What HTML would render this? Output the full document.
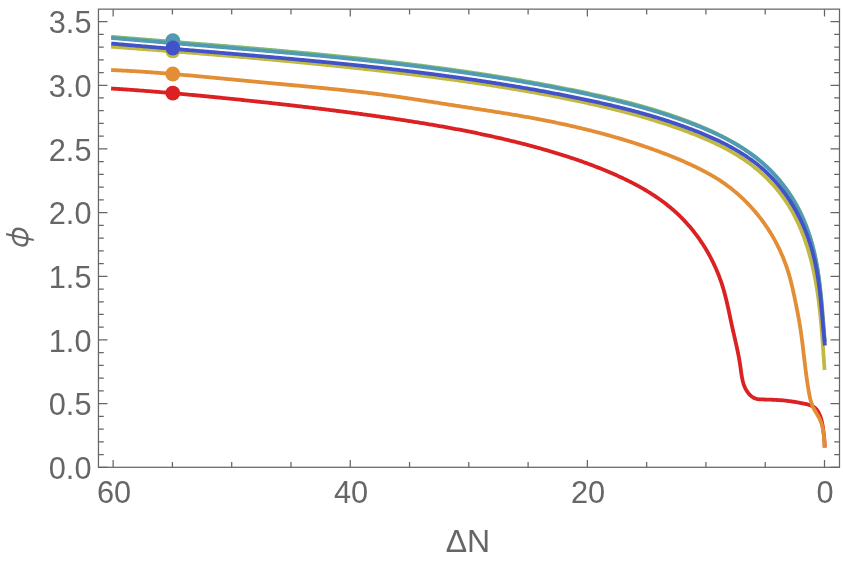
<!DOCTYPE html><html><head><meta charset="utf-8"><title>plot</title><style>
html,body{margin:0;padding:0;background:#fff}
#c{position:relative;width:843px;height:562px;overflow:hidden;background:#fff;font-family:"Liberation Sans",sans-serif;color:#666;font-size:32px;line-height:1}
.yl{position:absolute;right:751.4px;text-align:right;white-space:nowrap;height:32px;line-height:32px;transform-origin:100% 50%;transform:scaleX(0.96)}
.xl{position:absolute;top:475.7px;white-space:nowrap;transform:translateX(-50%) scaleX(0.96);height:32px;line-height:32px}
.d{margin:0}
</style></head><body><div id="c">
<svg width="843" height="562" viewBox="0 0 843 562" style="position:absolute;left:0;top:0">
<rect x="0" y="0" width="843" height="562" fill="#fff"/>
<path d="M111.10,88.49 L112.38,88.57 L113.66,88.65 L114.93,88.73 L116.21,88.81 L117.49,88.90 L118.76,88.98 L120.04,89.07 L121.32,89.15 L122.59,89.24 L123.87,89.33 L125.15,89.42 L126.43,89.51 L127.70,89.59 L128.98,89.69 L130.26,89.78 L131.53,89.87 L132.81,89.96 L134.09,90.05 L135.37,90.15 L136.64,90.24 L137.92,90.34 L139.20,90.43 L140.47,90.53 L141.75,90.63 L143.03,90.73 L144.30,90.83 L145.58,90.92 L146.86,91.02 L148.14,91.13 L149.41,91.23 L150.69,91.33 L151.97,91.43 L153.24,91.53 L154.52,91.64 L155.80,91.74 L157.08,91.85 L158.35,91.95 L159.63,92.06 L160.91,92.17 L162.18,92.27 L163.46,92.38 L164.74,92.49 L166.01,92.60 L167.29,92.71 L168.57,92.82 L169.85,92.93 L171.12,93.04 L172.40,93.15 L173.68,93.27 L174.95,93.38 L176.23,93.49 L177.51,93.61 L178.78,93.72 L180.06,93.84 L181.34,93.95 L182.61,94.07 L183.89,94.18 L185.17,94.30 L186.44,94.42 L187.72,94.54 L189.00,94.66 L190.27,94.77 L191.55,94.89 L192.83,95.01 L194.10,95.13 L195.38,95.25 L196.65,95.38 L197.93,95.50 L199.21,95.62 L200.48,95.74 L201.76,95.87 L203.04,95.99 L204.31,96.11 L205.59,96.24 L206.86,96.36 L208.14,96.49 L209.41,96.61 L210.69,96.74 L211.97,96.86 L213.24,96.99 L214.52,97.12 L215.79,97.25 L217.07,97.37 L218.34,97.50 L219.62,97.63 L220.89,97.76 L222.17,97.89 L223.45,98.02 L224.72,98.15 L226.00,98.28 L227.27,98.41 L228.55,98.54 L229.82,98.67 L231.10,98.80 L232.37,98.93 L233.64,99.07 L234.92,99.20 L236.19,99.33 L237.47,99.46 L238.74,99.60 L240.02,99.73 L241.29,99.86 L242.57,100.00 L243.84,100.13 L245.11,100.27 L246.39,100.40 L247.66,100.54 L248.94,100.67 L250.21,100.81 L251.48,100.94 L252.76,101.08 L254.03,101.21 L255.30,101.35 L256.58,101.49 L257.85,101.63 L259.12,101.76 L260.40,101.90 L261.67,102.04 L262.94,102.18 L264.22,102.31 L265.49,102.45 L266.76,102.59 L268.03,102.73 L269.31,102.87 L270.58,103.01 L271.85,103.15 L273.12,103.29 L274.40,103.43 L275.67,103.58 L276.94,103.72 L278.21,103.86 L279.49,104.00 L280.76,104.15 L282.03,104.29 L283.30,104.43 L284.57,104.58 L285.84,104.72 L287.12,104.86 L288.39,105.01 L289.66,105.15 L290.93,105.30 L292.20,105.45 L293.47,105.59 L294.75,105.74 L296.02,105.89 L297.29,106.03 L298.56,106.18 L299.83,106.33 L301.10,106.48 L302.37,106.63 L303.64,106.78 L304.91,106.93 L306.19,107.08 L307.46,107.23 L308.73,107.38 L310.00,107.53 L311.27,107.69 L312.54,107.84 L313.81,107.99 L315.08,108.14 L316.35,108.30 L317.62,108.45 L318.89,108.61 L320.16,108.76 L321.43,108.92 L322.70,109.07 L323.97,109.23 L325.24,109.39 L326.51,109.55 L327.78,109.70 L329.05,109.86 L330.32,110.02 L331.59,110.18 L332.86,110.34 L334.13,110.50 L335.40,110.66 L336.67,110.83 L337.94,110.99 L339.21,111.15 L340.48,111.31 L341.75,111.48 L343.02,111.64 L344.29,111.81 L345.56,111.97 L346.83,112.14 L348.10,112.30 L349.37,112.47 L350.64,112.64 L351.91,112.81 L353.18,112.98 L354.45,113.14 L355.72,113.31 L356.99,113.48 L358.25,113.66 L359.52,113.83 L360.79,114.00 L362.06,114.17 L363.33,114.34 L364.60,114.52 L365.87,114.69 L367.14,114.87 L368.41,115.04 L369.68,115.22 L370.95,115.40 L372.21,115.57 L373.48,115.75 L374.75,115.93 L376.02,116.11 L377.29,116.29 L378.56,116.47 L379.83,116.65 L381.10,116.83 L382.37,117.02 L383.63,117.20 L384.90,117.38 L386.17,117.57 L387.44,117.75 L388.71,117.94 L389.98,118.12 L391.25,118.31 L392.51,118.50 L393.78,118.69 L395.05,118.88 L396.32,119.07 L397.59,119.26 L398.86,119.45 L400.12,119.64 L401.39,119.83 L402.66,120.03 L403.93,120.22 L405.20,120.42 L406.46,120.61 L407.73,120.81 L409.00,121.01 L410.27,121.21 L411.53,121.41 L412.80,121.61 L414.07,121.81 L415.34,122.01 L416.60,122.21 L417.87,122.42 L419.14,122.62 L420.40,122.83 L421.67,123.04 L422.94,123.24 L424.20,123.45 L425.47,123.66 L426.73,123.87 L428.00,124.08 L429.26,124.30 L430.53,124.51 L431.79,124.73 L433.06,124.94 L434.32,125.16 L435.59,125.38 L436.85,125.60 L438.12,125.82 L439.38,126.04 L440.64,126.26 L441.91,126.48 L443.17,126.71 L444.43,126.93 L445.70,127.16 L446.96,127.39 L448.22,127.62 L449.48,127.85 L450.74,128.08 L452.01,128.31 L453.27,128.55 L454.53,128.78 L455.79,129.02 L457.05,129.25 L458.31,129.49 L459.57,129.73 L460.83,129.97 L462.09,130.22 L463.35,130.46 L464.60,130.71 L465.86,130.95 L467.12,131.20 L468.38,131.45 L469.64,131.70 L470.89,131.95 L472.15,132.21 L473.41,132.46 L474.66,132.72 L475.92,132.97 L477.17,133.23 L478.43,133.49 L479.68,133.75 L480.94,134.02 L482.19,134.28 L483.44,134.55 L484.70,134.82 L485.95,135.08 L487.20,135.35 L488.45,135.63 L489.70,135.90 L490.96,136.17 L492.21,136.45 L493.46,136.73 L494.71,137.01 L495.96,137.29 L497.20,137.57 L498.45,137.86 L499.70,138.14 L500.95,138.43 L502.20,138.72 L503.44,139.01 L504.69,139.30 L505.94,139.60 L507.18,139.89 L508.43,140.19 L509.67,140.49 L510.91,140.79 L512.16,141.09 L513.40,141.40 L514.64,141.70 L515.89,142.01 L517.13,142.32 L518.37,142.63 L519.61,142.94 L520.85,143.26 L522.09,143.57 L523.33,143.89 L524.57,144.21 L525.80,144.53 L527.04,144.86 L528.28,145.18 L529.51,145.51 L530.75,145.84 L531.98,146.17 L533.22,146.50 L534.45,146.84 L535.69,147.17 L536.92,147.51 L538.15,147.85 L539.38,148.20 L540.61,148.54 L541.85,148.89 L543.08,149.23 L544.30,149.58 L545.53,149.94 L546.76,150.29 L547.99,150.65 L549.22,151.01 L550.44,151.37 L551.67,151.73 L552.89,152.09 L554.12,152.46 L555.34,152.83 L556.56,153.20 L557.79,153.57 L559.01,153.95 L560.23,154.33 L561.45,154.71 L562.67,155.09 L563.89,155.48 L565.10,155.86 L566.32,156.25 L567.54,156.65 L568.75,157.04 L569.97,157.44 L571.18,157.84 L572.39,158.24 L573.61,158.65 L574.82,159.06 L576.03,159.47 L577.24,159.88 L578.45,160.30 L579.66,160.72 L580.86,161.14 L582.07,161.57 L583.28,162.00 L584.48,162.43 L585.69,162.87 L586.89,163.30 L588.09,163.74 L589.29,164.19 L590.49,164.64 L591.69,165.09 L592.89,165.54 L594.09,166.00 L595.28,166.46 L596.48,166.92 L597.67,167.39 L598.87,167.86 L600.06,168.33 L601.25,168.81 L602.44,169.29 L603.63,169.77 L604.82,170.26 L606.01,170.75 L607.19,171.25 L608.38,171.75 L609.56,172.25 L610.74,172.75 L611.93,173.26 L613.11,173.78 L614.29,174.30 L615.46,174.82 L616.64,175.34 L617.81,175.87 L618.99,176.41 L620.16,176.95 L621.33,177.49 L622.50,178.03 L623.66,178.59 L624.82,179.14 L625.99,179.70 L627.14,180.27 L628.30,180.84 L629.45,181.41 L630.60,181.99 L631.75,182.58 L632.90,183.17 L634.04,183.76 L635.18,184.36 L636.31,184.97 L637.45,185.58 L638.57,186.19 L639.70,186.82 L640.82,187.44 L641.94,188.08 L643.06,188.72 L644.17,189.36 L645.27,190.01 L646.38,190.67 L647.48,191.33 L648.57,192.00 L649.66,192.67 L650.75,193.35 L651.83,194.04 L652.90,194.73 L653.98,195.43 L655.04,196.14 L656.10,196.85 L657.16,197.57 L658.21,198.29 L659.26,199.03 L660.30,199.76 L661.34,200.51 L662.37,201.26 L663.39,202.02 L664.41,202.79 L665.43,203.57 L666.43,204.35 L667.43,205.14 L668.43,205.93 L669.42,206.74 L670.40,207.55 L671.38,208.37 L672.35,209.20 L673.31,210.03 L674.27,210.87 L675.22,211.72 L676.16,212.58 L677.10,213.45 L678.03,214.32 L678.95,215.21 L679.86,216.09 L680.77,216.99 L681.67,217.90 L682.57,218.81 L683.46,219.73 L684.34,220.65 L685.21,221.58 L686.07,222.53 L686.93,223.47 L687.78,224.43 L688.63,225.39 L689.46,226.36 L690.29,227.33 L691.11,228.31 L691.93,229.30 L692.73,230.29 L693.53,231.29 L694.32,232.30 L695.11,233.31 L695.88,234.33 L696.65,235.36 L697.41,236.39 L698.16,237.43 L698.91,238.47 L699.65,239.52 L700.38,240.57 L701.10,241.63 L701.81,242.70 L702.52,243.77 L703.21,244.85 L703.90,245.93 L704.58,247.02 L705.26,248.11 L705.92,249.21 L706.58,250.31 L707.23,251.42 L707.87,252.53 L708.50,253.65 L709.12,254.77 L709.74,255.90 L710.34,257.03 L710.94,258.17 L711.53,259.31 L712.11,260.46 L712.68,261.61 L713.25,262.76 L713.80,263.92 L714.35,265.08 L714.89,266.25 L715.42,267.42 L715.94,268.59 L716.45,269.77 L716.95,270.95 L717.45,272.14 L717.93,273.32 L718.41,274.52 L718.88,275.71 L719.33,276.91 L719.78,278.11 L720.22,279.32 L720.65,280.53 L721.07,281.74 L721.49,282.95 L721.89,284.17 L722.28,285.39 L722.67,286.61 L723.04,287.84 L723.41,289.07 L723.77,290.30 L724.12,291.53 L724.46,292.77 L724.79,294.01 L725.12,295.24 L725.44,296.49 L725.75,297.73 L726.06,298.97 L726.36,300.22 L726.66,301.47 L726.95,302.71 L727.24,303.96 L727.53,305.21 L727.81,306.46 L728.08,307.72 L728.36,308.97 L728.63,310.22 L728.90,311.47 L729.17,312.73 L729.43,313.98 L729.70,315.23 L729.96,316.48 L730.23,317.74 L730.49,318.99 L730.76,320.24 L731.02,321.49 L731.29,322.74 L731.56,323.99 L731.83,325.24 L732.10,326.48 L732.38,327.73 L732.66,328.97 L732.94,330.21 L733.22,331.46 L733.50,332.70 L733.79,333.94 L734.07,335.18 L734.36,336.42 L734.64,337.66 L734.93,338.90 L735.21,340.14 L735.50,341.38 L735.78,342.62 L736.06,343.86 L736.34,345.11 L736.61,346.35 L736.89,347.60 L737.15,348.85 L737.42,350.10 L737.68,351.35 L737.94,352.60 L738.19,353.86 L738.44,355.12 L738.68,356.38 L738.92,357.64 L739.15,358.91 L739.37,360.18 L739.59,361.45 L739.80,362.73 L740.00,364.01 L740.20,365.29 L740.38,366.58 L740.56,367.87 L740.74,369.17 L740.91,370.46 L741.09,371.76 L741.27,373.05 L741.46,374.33 L741.67,375.62 L741.89,376.89 L742.13,378.16 L742.39,379.41 L742.67,380.66 L742.99,381.89 L743.33,383.11 L743.71,384.31 L744.13,385.49 L744.59,386.66 L745.09,387.81 L745.64,388.93 L746.24,390.03 L746.89,391.11 L747.61,392.16 L748.38,393.18 L749.21,394.16 L750.10,395.10 L751.05,395.98 L752.06,396.77 L753.12,397.48 L754.23,398.07 L755.40,398.54 L756.61,398.89 L757.85,399.12 L759.13,399.27 L760.43,399.36 L761.74,399.42 L763.05,399.46 L764.36,399.49 L765.66,399.53 L766.96,399.57 L768.26,399.61 L769.56,399.66 L770.86,399.70 L772.15,399.75 L773.44,399.81 L774.72,399.87 L776.00,399.93 L777.28,400.00 L778.56,400.08 L779.83,400.17 L781.10,400.26 L782.37,400.36 L783.63,400.48 L784.89,400.60 L786.15,400.73 L787.40,400.88 L788.66,401.03 L789.91,401.20 L791.16,401.37 L792.42,401.55 L793.67,401.75 L794.93,401.95 L796.19,402.16 L797.45,402.38 L798.71,402.61 L799.98,402.84 L801.26,403.09 L802.54,403.34 L803.83,403.60 L805.12,403.87 L806.42,404.15 L807.70,404.46 L808.96,404.81 L810.19,405.21 L811.38,405.67 L812.52,406.20 L813.59,406.82 L814.59,407.54 L815.51,408.35 L816.36,409.25 L817.13,410.23 L817.85,411.27 L818.50,412.36 L819.09,413.50 L819.63,414.68 L820.12,415.88 L820.57,417.10 L820.97,418.33 L821.33,419.56 L821.65,420.81 L821.95,422.06 L822.21,423.33 L822.45,424.59 L822.67,425.86 L822.87,427.13 L823.05,428.41 L823.22,429.68 L823.38,430.95 L823.54,432.22 L823.69,433.49 L823.85,434.75 L823.99,436.02 L824.13,437.28 L824.26,438.54 L824.37,439.81 L824.47,441.08 L824.56,442.35 L824.62,443.63 L824.66,444.92 L824.68,446.21 L824.68,447.51" fill="none" stroke="#db2122" stroke-width="3.8" stroke-linejoin="round"/>
<path d="M111.10,70.00 L112.42,70.06 L113.73,70.11 L115.05,70.17 L116.36,70.23 L117.68,70.29 L118.99,70.35 L120.31,70.42 L121.62,70.48 L122.94,70.55 L124.25,70.62 L125.56,70.69 L126.88,70.76 L128.19,70.83 L129.51,70.91 L130.82,70.98 L132.13,71.06 L133.45,71.14 L134.76,71.22 L136.08,71.30 L137.39,71.38 L138.70,71.46 L140.02,71.55 L141.33,71.63 L142.64,71.72 L143.95,71.81 L145.27,71.90 L146.58,71.99 L147.89,72.08 L149.21,72.17 L150.52,72.26 L151.83,72.36 L153.14,72.45 L154.45,72.55 L155.77,72.65 L157.08,72.75 L158.39,72.85 L159.70,72.95 L161.02,73.05 L162.33,73.15 L163.64,73.25 L164.95,73.36 L166.26,73.46 L167.57,73.57 L168.88,73.68 L170.20,73.78 L171.51,73.89 L172.82,74.00 L174.13,74.11 L175.44,74.22 L176.75,74.33 L178.06,74.45 L179.37,74.56 L180.69,74.67 L182.00,74.79 L183.31,74.90 L184.62,75.02 L185.93,75.13 L187.24,75.25 L188.55,75.37 L189.86,75.48 L191.17,75.60 L192.48,75.72 L193.79,75.84 L195.10,75.96 L196.41,76.08 L197.72,76.20 L199.03,76.32 L200.34,76.44 L201.65,76.56 L202.96,76.69 L204.27,76.81 L205.58,76.93 L206.89,77.05 L208.21,77.18 L209.52,77.30 L210.83,77.43 L212.14,77.55 L213.45,77.68 L214.76,77.80 L216.07,77.92 L217.38,78.05 L218.69,78.18 L220.00,78.30 L221.31,78.43 L222.62,78.55 L223.93,78.68 L225.24,78.80 L226.55,78.93 L227.86,79.06 L229.17,79.18 L230.48,79.31 L231.78,79.43 L233.09,79.56 L234.40,79.69 L235.71,79.81 L237.02,79.94 L238.33,80.06 L239.64,80.19 L240.95,80.31 L242.26,80.44 L243.57,80.56 L244.88,80.69 L246.19,80.81 L247.50,80.94 L248.81,81.06 L250.12,81.19 L251.43,81.31 L252.75,81.44 L254.06,81.56 L255.37,81.68 L256.68,81.81 L257.99,81.93 L259.30,82.05 L260.61,82.18 L261.92,82.30 L263.23,82.42 L264.54,82.54 L265.85,82.67 L267.16,82.79 L268.47,82.91 L269.78,83.03 L271.09,83.16 L272.40,83.28 L273.71,83.40 L275.02,83.52 L276.33,83.65 L277.64,83.77 L278.95,83.89 L280.26,84.01 L281.57,84.14 L282.88,84.26 L284.19,84.38 L285.50,84.50 L286.81,84.63 L288.12,84.75 L289.43,84.87 L290.74,84.99 L292.05,85.12 L293.36,85.24 L294.67,85.36 L295.98,85.49 L297.29,85.61 L298.60,85.73 L299.91,85.86 L301.22,85.98 L302.53,86.11 L303.84,86.23 L305.15,86.35 L306.46,86.48 L307.77,86.60 L309.08,86.73 L310.39,86.85 L311.70,86.98 L313.01,87.11 L314.32,87.23 L315.63,87.36 L316.94,87.48 L318.25,87.61 L319.56,87.74 L320.87,87.87 L322.18,87.99 L323.49,88.12 L324.80,88.25 L326.11,88.38 L327.42,88.51 L328.73,88.64 L330.04,88.77 L331.35,88.90 L332.66,89.03 L333.97,89.16 L335.28,89.30 L336.59,89.43 L337.90,89.56 L339.20,89.70 L340.51,89.83 L341.82,89.97 L343.13,90.11 L344.44,90.24 L345.75,90.38 L347.06,90.52 L348.37,90.66 L349.67,90.80 L350.98,90.94 L352.29,91.09 L353.60,91.23 L354.91,91.37 L356.21,91.52 L357.52,91.66 L358.83,91.81 L360.14,91.96 L361.44,92.11 L362.75,92.26 L364.06,92.41 L365.37,92.56 L366.67,92.72 L367.98,92.87 L369.29,93.03 L370.59,93.19 L371.90,93.35 L373.20,93.51 L374.51,93.67 L375.82,93.83 L377.12,93.99 L378.43,94.16 L379.73,94.32 L381.04,94.49 L382.34,94.66 L383.65,94.83 L384.95,95.01 L386.26,95.18 L387.56,95.35 L388.86,95.53 L390.17,95.71 L391.47,95.89 L392.78,96.07 L394.08,96.25 L395.38,96.43 L396.69,96.62 L397.99,96.81 L399.29,96.99 L400.59,97.18 L401.90,97.37 L403.20,97.56 L404.50,97.75 L405.80,97.94 L407.10,98.13 L408.41,98.33 L409.71,98.52 L411.01,98.72 L412.31,98.92 L413.61,99.11 L414.91,99.31 L416.22,99.51 L417.52,99.71 L418.82,99.91 L420.12,100.11 L421.42,100.31 L422.72,100.51 L424.02,100.71 L425.32,100.91 L426.62,101.11 L427.92,101.32 L429.22,101.52 L430.52,101.72 L431.82,101.93 L433.12,102.13 L434.42,102.34 L435.73,102.54 L437.03,102.74 L438.33,102.95 L439.63,103.15 L440.93,103.36 L442.23,103.56 L443.53,103.76 L444.83,103.97 L446.13,104.17 L447.43,104.38 L448.73,104.58 L450.03,104.78 L451.33,104.99 L452.63,105.19 L453.93,105.39 L455.23,105.59 L456.53,105.79 L457.83,105.99 L459.13,106.19 L460.43,106.39 L461.73,106.59 L463.03,106.79 L464.33,106.99 L465.63,107.19 L466.93,107.39 L468.23,107.59 L469.53,107.79 L470.83,107.99 L472.13,108.19 L473.43,108.39 L474.73,108.59 L476.03,108.78 L477.33,108.98 L478.63,109.18 L479.93,109.38 L481.23,109.58 L482.53,109.78 L483.83,109.98 L485.13,110.18 L486.43,110.38 L487.73,110.59 L489.03,110.79 L490.33,110.99 L491.63,111.19 L492.93,111.40 L494.23,111.60 L495.53,111.81 L496.83,112.01 L498.13,112.22 L499.43,112.42 L500.73,112.63 L502.03,112.84 L503.32,113.05 L504.62,113.26 L505.92,113.47 L507.22,113.68 L508.52,113.90 L509.82,114.11 L511.11,114.32 L512.41,114.54 L513.71,114.76 L515.01,114.98 L516.30,115.20 L517.60,115.42 L518.90,115.64 L520.19,115.86 L521.49,116.09 L522.79,116.31 L524.08,116.54 L525.38,116.77 L526.68,117.00 L527.97,117.23 L529.27,117.47 L530.56,117.70 L531.86,117.94 L533.15,118.18 L534.45,118.41 L535.74,118.66 L537.03,118.90 L538.33,119.14 L539.62,119.39 L540.92,119.64 L542.21,119.89 L543.50,120.14 L544.79,120.39 L546.09,120.64 L547.38,120.90 L548.67,121.16 L549.96,121.42 L551.25,121.68 L552.54,121.94 L553.83,122.20 L555.12,122.47 L556.41,122.74 L557.70,123.01 L558.99,123.28 L560.28,123.55 L561.56,123.83 L562.85,124.10 L564.14,124.38 L565.43,124.66 L566.71,124.95 L568.00,125.23 L569.28,125.52 L570.57,125.81 L571.85,126.10 L573.14,126.39 L574.42,126.68 L575.70,126.98 L576.99,127.28 L578.27,127.58 L579.55,127.88 L580.83,128.18 L582.11,128.49 L583.39,128.80 L584.67,129.11 L585.95,129.42 L587.23,129.74 L588.51,130.05 L589.78,130.37 L591.06,130.69 L592.34,131.01 L593.61,131.34 L594.89,131.67 L596.16,132.00 L597.44,132.33 L598.71,132.66 L599.98,133.00 L601.25,133.34 L602.52,133.68 L603.80,134.02 L605.07,134.36 L606.33,134.71 L607.60,135.06 L608.87,135.41 L610.14,135.77 L611.41,136.12 L612.67,136.48 L613.94,136.84 L615.20,137.21 L616.46,137.57 L617.73,137.94 L618.99,138.31 L620.25,138.69 L621.51,139.06 L622.77,139.44 L624.03,139.82 L625.29,140.20 L626.55,140.59 L627.81,140.98 L629.06,141.37 L630.32,141.76 L631.57,142.16 L632.83,142.56 L634.08,142.96 L635.33,143.36 L636.58,143.77 L637.83,144.17 L639.08,144.59 L640.33,145.00 L641.58,145.42 L642.83,145.84 L644.07,146.26 L645.32,146.68 L646.56,147.11 L647.80,147.54 L649.05,147.97 L650.29,148.41 L651.53,148.85 L652.77,149.29 L654.01,149.73 L655.25,150.18 L656.48,150.63 L657.72,151.08 L658.95,151.53 L660.19,151.99 L661.42,152.45 L662.65,152.92 L663.88,153.39 L665.11,153.86 L666.34,154.33 L667.56,154.81 L668.79,155.29 L670.01,155.77 L671.23,156.26 L672.45,156.75 L673.67,157.25 L674.89,157.75 L676.10,158.25 L677.32,158.76 L678.53,159.27 L679.74,159.78 L680.95,160.30 L682.16,160.82 L683.37,161.34 L684.57,161.87 L685.77,162.41 L686.97,162.95 L688.17,163.49 L689.37,164.03 L690.56,164.59 L691.76,165.14 L692.95,165.70 L694.14,166.26 L695.32,166.83 L696.51,167.40 L697.69,167.98 L698.87,168.56 L700.05,169.15 L701.22,169.75 L702.39,170.34 L703.56,170.95 L704.72,171.56 L705.89,172.18 L707.04,172.80 L708.20,173.43 L709.35,174.07 L710.49,174.72 L711.63,175.37 L712.77,176.03 L713.90,176.70 L715.03,177.38 L716.15,178.06 L717.27,178.76 L718.38,179.46 L719.48,180.17 L720.58,180.90 L721.67,181.63 L722.76,182.37 L723.84,183.12 L724.92,183.88 L725.99,184.65 L727.05,185.42 L728.10,186.21 L729.16,187.00 L730.20,187.81 L731.24,188.62 L732.27,189.44 L733.29,190.27 L734.31,191.10 L735.32,191.95 L736.33,192.80 L737.33,193.66 L738.32,194.53 L739.30,195.41 L740.28,196.29 L741.25,197.19 L742.22,198.09 L743.17,198.99 L744.12,199.91 L745.06,200.83 L746.00,201.76 L746.93,202.70 L747.85,203.65 L748.76,204.60 L749.67,205.56 L750.57,206.52 L751.46,207.50 L752.34,208.48 L753.22,209.47 L754.09,210.46 L754.95,211.46 L755.80,212.47 L756.65,213.48 L757.48,214.50 L758.31,215.53 L759.13,216.56 L759.95,217.60 L760.75,218.64 L761.55,219.69 L762.34,220.75 L763.12,221.81 L763.89,222.88 L764.65,223.96 L765.41,225.04 L766.15,226.12 L766.89,227.21 L767.62,228.31 L768.34,229.41 L769.05,230.52 L769.75,231.63 L770.45,232.75 L771.13,233.87 L771.81,235.00 L772.48,236.13 L773.14,237.27 L773.79,238.41 L774.43,239.56 L775.06,240.71 L775.68,241.87 L776.30,243.03 L776.90,244.20 L777.50,245.37 L778.08,246.54 L778.66,247.72 L779.23,248.91 L779.79,250.10 L780.34,251.29 L780.88,252.48 L781.41,253.68 L781.94,254.89 L782.45,256.10 L782.95,257.31 L783.45,258.53 L783.93,259.75 L784.41,260.97 L784.88,262.20 L785.33,263.43 L785.78,264.67 L786.22,265.91 L786.65,267.15 L787.07,268.39 L787.48,269.64 L787.88,270.89 L788.27,272.15 L788.65,273.41 L789.03,274.67 L789.39,275.93 L789.75,277.20 L790.10,278.47 L790.44,279.74 L790.77,281.02 L791.10,282.29 L791.42,283.57 L791.73,284.85 L792.04,286.13 L792.34,287.42 L792.64,288.70 L792.93,289.99 L793.22,291.28 L793.50,292.57 L793.78,293.86 L794.05,295.15 L794.33,296.44 L794.60,297.73 L794.86,299.02 L795.13,300.31 L795.39,301.60 L795.65,302.90 L795.91,304.19 L796.17,305.48 L796.43,306.77 L796.68,308.06 L796.94,309.35 L797.20,310.64 L797.45,311.93 L797.70,313.22 L797.95,314.51 L798.20,315.80 L798.44,317.09 L798.68,318.38 L798.92,319.67 L799.15,320.96 L799.37,322.26 L799.59,323.55 L799.81,324.85 L800.02,326.14 L800.22,327.44 L800.42,328.74 L800.62,330.04 L800.81,331.34 L801.00,332.64 L801.18,333.94 L801.37,335.25 L801.54,336.55 L801.72,337.85 L801.89,339.16 L802.06,340.46 L802.23,341.77 L802.39,343.08 L802.55,344.38 L802.71,345.69 L802.87,347.00 L803.03,348.30 L803.19,349.61 L803.34,350.92 L803.50,352.23 L803.65,353.54 L803.80,354.85 L803.96,356.16 L804.11,357.46 L804.26,358.77 L804.42,360.08 L804.57,361.39 L804.73,362.70 L804.88,364.01 L805.04,365.32 L805.20,366.62 L805.36,367.93 L805.52,369.24 L805.69,370.54 L805.85,371.85 L806.02,373.16 L806.19,374.46 L806.37,375.77 L806.55,377.07 L806.73,378.37 L806.91,379.68 L807.10,380.98 L807.29,382.28 L807.49,383.58 L807.69,384.88 L807.89,386.18 L808.10,387.47 L808.32,388.77 L808.54,390.07 L808.76,391.36 L808.99,392.65 L809.23,393.95 L809.48,395.23 L809.74,396.52 L810.02,397.80 L810.32,399.07 L810.65,400.33 L811.01,401.58 L811.39,402.82 L811.82,404.05 L812.28,405.26 L812.79,406.46 L813.34,407.65 L813.94,408.81 L814.57,409.97 L815.22,411.11 L815.89,412.25 L816.57,413.39 L817.24,414.53 L817.91,415.67 L818.55,416.83 L819.16,417.99 L819.74,419.17 L820.27,420.36 L820.76,421.57 L821.21,422.80 L821.61,424.04 L821.98,425.29 L822.31,426.56 L822.60,427.83 L822.87,429.12 L823.11,430.41 L823.32,431.72 L823.50,433.03 L823.67,434.34 L823.82,435.66 L823.95,436.98 L824.06,438.30 L824.17,439.63 L824.26,440.95 L824.35,442.27 L824.43,443.59 L824.51,444.90 L824.60,446.21 L824.68,447.51" fill="none" stroke="#e38d34" stroke-width="3.8" stroke-linejoin="round"/>
<path d="M111.11,46.68 L112.37,46.77 L113.63,46.87 L114.89,46.96 L116.15,47.05 L117.40,47.14 L118.66,47.24 L119.92,47.33 L121.18,47.42 L122.44,47.52 L123.70,47.61 L124.96,47.70 L126.21,47.80 L127.47,47.89 L128.73,47.98 L129.99,48.08 L131.25,48.17 L132.51,48.26 L133.77,48.36 L135.02,48.45 L136.28,48.55 L137.54,48.64 L138.80,48.74 L140.06,48.83 L141.32,48.93 L142.57,49.02 L143.83,49.12 L145.09,49.21 L146.35,49.31 L147.61,49.40 L148.87,49.50 L150.12,49.59 L151.38,49.69 L152.64,49.78 L153.90,49.88 L155.16,49.98 L156.42,50.07 L157.67,50.17 L158.93,50.27 L160.19,50.36 L161.45,50.46 L162.71,50.56 L163.97,50.65 L165.22,50.75 L166.48,50.85 L167.74,50.95 L169.00,51.04 L170.26,51.14 L171.52,51.24 L172.77,51.34 L174.03,51.44 L175.29,51.53 L176.55,51.63 L177.81,51.73 L179.06,51.83 L180.32,51.93 L181.58,52.03 L182.84,52.13 L184.10,52.23 L185.36,52.33 L186.61,52.43 L187.87,52.53 L189.13,52.63 L190.39,52.73 L191.65,52.83 L192.90,52.93 L194.16,53.03 L195.42,53.13 L196.68,53.23 L197.94,53.34 L199.19,53.44 L200.45,53.54 L201.71,53.64 L202.97,53.74 L204.23,53.85 L205.48,53.95 L206.74,54.05 L208.00,54.15 L209.26,54.26 L210.51,54.36 L211.77,54.46 L213.03,54.57 L214.29,54.67 L215.55,54.78 L216.80,54.88 L218.06,54.99 L219.32,55.09 L220.58,55.20 L221.83,55.30 L223.09,55.41 L224.35,55.51 L225.61,55.62 L226.86,55.72 L228.12,55.83 L229.38,55.94 L230.64,56.04 L231.89,56.15 L233.15,56.26 L234.41,56.36 L235.67,56.47 L236.92,56.58 L238.18,56.69 L239.44,56.80 L240.70,56.90 L241.95,57.01 L243.21,57.12 L244.47,57.23 L245.73,57.34 L246.98,57.45 L248.24,57.56 L249.50,57.67 L250.76,57.78 L252.01,57.89 L253.27,58.00 L254.53,58.11 L255.78,58.22 L257.04,58.34 L258.30,58.45 L259.56,58.56 L260.81,58.67 L262.07,58.78 L263.33,58.90 L264.58,59.01 L265.84,59.12 L267.10,59.24 L268.36,59.35 L269.61,59.46 L270.87,59.58 L272.13,59.69 L273.38,59.81 L274.64,59.92 L275.90,60.04 L277.15,60.15 L278.41,60.27 L279.67,60.39 L280.92,60.50 L282.18,60.62 L283.44,60.74 L284.69,60.85 L285.95,60.97 L287.21,61.09 L288.46,61.21 L289.72,61.33 L290.98,61.44 L292.23,61.56 L293.49,61.68 L294.75,61.80 L296.00,61.92 L297.26,62.04 L298.52,62.16 L299.77,62.28 L301.03,62.40 L302.28,62.53 L303.54,62.65 L304.80,62.77 L306.05,62.89 L307.31,63.01 L308.57,63.14 L309.82,63.26 L311.08,63.38 L312.33,63.51 L313.59,63.63 L314.85,63.76 L316.10,63.88 L317.36,64.00 L318.61,64.13 L319.87,64.26 L321.13,64.38 L322.38,64.51 L323.64,64.63 L324.89,64.76 L326.15,64.89 L327.41,65.02 L328.66,65.14 L329.92,65.27 L331.17,65.40 L332.43,65.53 L333.68,65.66 L334.94,65.79 L336.19,65.92 L337.45,66.05 L338.71,66.18 L339.96,66.31 L341.22,66.44 L342.47,66.57 L343.73,66.70 L344.98,66.83 L346.24,66.97 L347.49,67.10 L348.75,67.23 L350.00,67.37 L351.26,67.50 L352.51,67.63 L353.77,67.77 L355.02,67.90 L356.28,68.04 L357.53,68.18 L358.79,68.31 L360.04,68.45 L361.30,68.58 L362.55,68.72 L363.81,68.86 L365.06,69.00 L366.32,69.13 L367.57,69.27 L368.83,69.41 L370.08,69.55 L371.34,69.69 L372.59,69.83 L373.85,69.97 L375.10,70.11 L376.36,70.25 L377.61,70.39 L378.87,70.54 L380.12,70.68 L381.37,70.82 L382.63,70.96 L383.88,71.11 L385.14,71.25 L386.39,71.40 L387.65,71.54 L388.90,71.69 L390.15,71.83 L391.41,71.98 L392.66,72.12 L393.92,72.27 L395.17,72.42 L396.42,72.56 L397.68,72.71 L398.93,72.86 L400.19,73.01 L401.44,73.16 L402.69,73.31 L403.95,73.46 L405.20,73.61 L406.45,73.76 L407.71,73.91 L408.96,74.06 L410.21,74.22 L411.47,74.37 L412.72,74.52 L413.97,74.68 L415.23,74.83 L416.48,74.99 L417.73,75.14 L418.99,75.30 L420.24,75.45 L421.49,75.61 L422.74,75.77 L424.00,75.93 L425.25,76.09 L426.50,76.24 L427.75,76.40 L429.01,76.56 L430.26,76.72 L431.51,76.89 L432.76,77.05 L434.01,77.21 L435.27,77.37 L436.52,77.54 L437.77,77.70 L439.02,77.87 L440.27,78.03 L441.52,78.20 L442.78,78.36 L444.03,78.53 L445.28,78.70 L446.53,78.87 L447.78,79.04 L449.03,79.21 L450.28,79.38 L451.53,79.55 L452.78,79.72 L454.03,79.89 L455.28,80.06 L456.53,80.24 L457.78,80.41 L459.03,80.59 L460.28,80.76 L461.53,80.94 L462.78,81.11 L464.03,81.29 L465.28,81.47 L466.53,81.65 L467.78,81.83 L469.03,82.01 L470.28,82.19 L471.53,82.37 L472.77,82.55 L474.02,82.74 L475.27,82.92 L476.52,83.10 L477.77,83.29 L479.02,83.48 L480.26,83.66 L481.51,83.85 L482.76,84.04 L484.01,84.23 L485.25,84.42 L486.50,84.61 L487.75,84.80 L488.99,84.99 L490.24,85.18 L491.49,85.38 L492.73,85.57 L493.98,85.77 L495.23,85.96 L496.47,86.16 L497.72,86.36 L498.96,86.56 L500.21,86.75 L501.45,86.95 L502.70,87.16 L503.94,87.36 L505.19,87.56 L506.43,87.76 L507.68,87.97 L508.92,88.17 L510.17,88.38 L511.41,88.59 L512.66,88.79 L513.90,89.00 L515.14,89.21 L516.39,89.42 L517.63,89.63 L518.87,89.84 L520.12,90.06 L521.36,90.27 L522.60,90.49 L523.84,90.70 L525.08,90.92 L526.33,91.13 L527.57,91.35 L528.81,91.57 L530.05,91.79 L531.29,92.01 L532.53,92.24 L533.77,92.46 L535.01,92.68 L536.26,92.91 L537.50,93.13 L538.74,93.36 L539.98,93.59 L541.21,93.82 L542.45,94.05 L543.69,94.28 L544.93,94.51 L546.17,94.74 L547.41,94.98 L548.65,95.21 L549.89,95.45 L551.12,95.68 L552.36,95.92 L553.60,96.16 L554.84,96.40 L556.07,96.64 L557.31,96.88 L558.55,97.12 L559.78,97.37 L561.02,97.61 L562.26,97.86 L563.49,98.11 L564.73,98.35 L565.96,98.60 L567.20,98.85 L568.43,99.10 L569.67,99.36 L570.90,99.61 L572.14,99.87 L573.37,100.12 L574.60,100.38 L575.84,100.64 L577.07,100.89 L578.30,101.15 L579.54,101.42 L580.77,101.68 L582.00,101.94 L583.23,102.21 L584.47,102.47 L585.70,102.74 L586.93,103.01 L588.16,103.28 L589.39,103.55 L590.62,103.82 L591.85,104.09 L593.08,104.37 L594.31,104.64 L595.54,104.92 L596.77,105.20 L598.00,105.48 L599.23,105.76 L600.45,106.04 L601.68,106.33 L602.91,106.62 L604.14,106.90 L605.36,107.19 L606.59,107.48 L607.81,107.78 L609.04,108.07 L610.27,108.37 L611.49,108.66 L612.71,108.96 L613.94,109.26 L615.16,109.57 L616.39,109.87 L617.61,110.18 L618.83,110.49 L620.05,110.80 L621.28,111.11 L622.50,111.42 L623.72,111.74 L624.94,112.05 L626.16,112.37 L627.38,112.70 L628.60,113.02 L629.82,113.34 L631.03,113.67 L632.25,114.00 L633.47,114.33 L634.69,114.67 L635.90,115.00 L637.12,115.34 L638.33,115.68 L639.55,116.02 L640.76,116.37 L641.98,116.72 L643.19,117.07 L644.40,117.42 L645.61,117.77 L646.83,118.13 L648.04,118.49 L649.25,118.85 L650.46,119.21 L651.67,119.58 L652.88,119.94 L654.09,120.31 L655.29,120.69 L656.50,121.06 L657.71,121.44 L658.92,121.82 L660.12,122.21 L661.33,122.59 L662.53,122.98 L663.73,123.37 L664.94,123.77 L666.14,124.16 L667.34,124.56 L668.54,124.96 L669.75,125.37 L670.95,125.78 L672.15,126.19 L673.34,126.60 L674.54,127.02 L675.74,127.44 L676.94,127.86 L678.13,128.28 L679.33,128.71 L680.53,129.14 L681.72,129.58 L682.91,130.01 L684.11,130.45 L685.30,130.90 L686.49,131.34 L687.68,131.79 L688.87,132.24 L690.06,132.70 L691.25,133.16 L692.44,133.62 L693.63,134.09 L694.81,134.56 L696.00,135.03 L697.18,135.50 L698.36,135.98 L699.54,136.47 L700.72,136.95 L701.90,137.45 L703.08,137.94 L704.25,138.44 L705.43,138.94 L706.60,139.45 L707.76,139.96 L708.93,140.48 L710.09,141.00 L711.26,141.53 L712.41,142.06 L713.57,142.60 L714.72,143.14 L715.88,143.68 L717.02,144.23 L718.17,144.79 L719.31,145.35 L720.45,145.92 L721.58,146.49 L722.72,147.07 L723.84,147.65 L724.97,148.24 L726.09,148.83 L727.21,149.44 L728.32,150.04 L729.43,150.66 L730.53,151.27 L731.64,151.90 L732.73,152.53 L733.82,153.17 L734.91,153.81 L736.00,154.47 L737.07,155.12 L738.15,155.79 L739.22,156.46 L740.28,157.14 L741.34,157.82 L742.39,158.52 L743.44,159.22 L744.48,159.92 L745.52,160.64 L746.55,161.36 L747.58,162.09 L748.60,162.83 L749.61,163.57 L750.62,164.32 L751.62,165.08 L752.62,165.85 L753.61,166.62 L754.59,167.40 L755.57,168.19 L756.54,168.98 L757.50,169.79 L758.46,170.60 L759.41,171.41 L760.36,172.24 L761.30,173.07 L762.23,173.90 L763.15,174.75 L764.07,175.60 L764.98,176.46 L765.88,177.33 L766.77,178.20 L767.66,179.08 L768.54,179.97 L769.42,180.86 L770.28,181.76 L771.14,182.67 L771.99,183.58 L772.83,184.50 L773.67,185.43 L774.49,186.36 L775.31,187.30 L776.12,188.25 L776.92,189.21 L777.71,190.17 L778.50,191.13 L779.28,192.11 L780.04,193.09 L780.80,194.08 L781.55,195.07 L782.30,196.07 L783.03,197.08 L783.75,198.09 L784.47,199.11 L785.17,200.13 L785.87,201.17 L786.56,202.21 L787.24,203.25 L787.91,204.30 L788.57,205.36 L789.23,206.42 L789.87,207.49 L790.51,208.56 L791.14,209.64 L791.76,210.72 L792.37,211.81 L792.97,212.91 L793.57,214.01 L794.15,215.11 L794.73,216.22 L795.30,217.34 L795.87,218.46 L796.42,219.58 L796.97,220.71 L797.51,221.84 L798.04,222.98 L798.56,224.12 L799.08,225.27 L799.59,226.42 L800.09,227.58 L800.58,228.74 L801.07,229.90 L801.55,231.07 L802.02,232.24 L802.49,233.41 L802.95,234.59 L803.40,235.77 L803.84,236.96 L804.28,238.15 L804.71,239.34 L805.13,240.53 L805.55,241.73 L805.96,242.93 L806.36,244.14 L806.76,245.34 L807.14,246.55 L807.53,247.76 L807.90,248.98 L808.28,250.19 L808.64,251.41 L809.00,252.63 L809.35,253.86 L809.69,255.08 L810.03,256.31 L810.37,257.54 L810.69,258.77 L811.02,260.01 L811.33,261.24 L811.64,262.48 L811.95,263.72 L812.24,264.95 L812.54,266.19 L812.82,267.44 L813.11,268.68 L813.38,269.92 L813.65,271.17 L813.92,272.41 L814.18,273.66 L814.44,274.91 L814.69,276.16 L814.93,277.40 L815.17,278.65 L815.41,279.90 L815.64,281.15 L815.86,282.40 L816.08,283.65 L816.30,284.91 L816.51,286.16 L816.72,287.41 L816.92,288.66 L817.12,289.92 L817.31,291.17 L817.50,292.42 L817.69,293.68 L817.87,294.93 L818.05,296.19 L818.23,297.44 L818.40,298.70 L818.56,299.95 L818.73,301.21 L818.89,302.46 L819.05,303.72 L819.20,304.97 L819.35,306.23 L819.50,307.49 L819.64,308.74 L819.78,310.00 L819.92,311.26 L820.06,312.51 L820.19,313.77 L820.32,315.03 L820.45,316.28 L820.57,317.54 L820.69,318.79 L820.81,320.05 L820.93,321.31 L821.05,322.56 L821.16,323.82 L821.27,325.07 L821.38,326.33 L821.49,327.59 L821.60,328.84 L821.70,330.10 L821.80,331.35 L821.90,332.60 L822.00,333.86 L822.10,335.11 L822.20,336.37 L822.29,337.62 L822.39,338.87 L822.48,340.12 L822.57,341.38 L822.67,342.63 L822.76,343.88 L822.85,345.13 L822.94,346.38 L823.02,347.63 L823.11,348.88 L823.20,350.13 L823.29,351.37 L823.37,352.62 L823.46,353.87 L823.55,355.11 L823.63,356.36 L823.72,357.60 L823.81,358.85 L823.90,360.09 L823.98,361.33 L824.07,362.58 L824.16,363.82 L824.25,365.06 L824.34,366.30 L824.43,367.53 L824.52,368.77 L824.61,370.01" fill="none" stroke="#c1b942" stroke-width="3.8" stroke-linejoin="round"/>
<path d="M111.16,36.77 L112.39,36.87 L113.62,36.98 L114.85,37.08 L116.08,37.18 L117.31,37.28 L118.54,37.38 L119.77,37.49 L121.00,37.59 L122.23,37.69 L123.46,37.79 L124.69,37.89 L125.93,37.99 L127.16,38.09 L128.39,38.20 L129.62,38.30 L130.85,38.40 L132.08,38.50 L133.31,38.60 L134.55,38.70 L135.78,38.80 L137.01,38.90 L138.24,39.00 L139.47,39.10 L140.71,39.20 L141.94,39.30 L143.17,39.40 L144.40,39.50 L145.63,39.60 L146.87,39.70 L148.10,39.80 L149.33,39.90 L150.56,40.00 L151.80,40.10 L153.03,40.20 L154.26,40.30 L155.49,40.40 L156.73,40.50 L157.96,40.60 L159.19,40.70 L160.43,40.80 L161.66,40.90 L162.89,41.00 L164.13,41.10 L165.36,41.20 L166.59,41.30 L167.83,41.39 L169.06,41.49 L170.29,41.59 L171.53,41.69 L172.76,41.79 L173.99,41.89 L175.23,41.99 L176.46,42.09 L177.69,42.19 L178.93,42.29 L180.16,42.39 L181.39,42.49 L182.63,42.59 L183.86,42.69 L185.10,42.79 L186.33,42.89 L187.56,42.99 L188.80,43.09 L190.03,43.19 L191.27,43.29 L192.50,43.39 L193.73,43.49 L194.97,43.59 L196.20,43.69 L197.44,43.79 L198.67,43.89 L199.90,43.99 L201.14,44.09 L202.37,44.19 L203.61,44.29 L204.84,44.39 L206.08,44.49 L207.31,44.59 L208.54,44.69 L209.78,44.79 L211.01,44.89 L212.25,44.99 L213.48,45.10 L214.72,45.20 L215.95,45.30 L217.19,45.40 L218.42,45.50 L219.66,45.60 L220.89,45.70 L222.13,45.81 L223.36,45.91 L224.59,46.01 L225.83,46.11 L227.06,46.22 L228.30,46.32 L229.53,46.42 L230.77,46.52 L232.00,46.63 L233.24,46.73 L234.47,46.83 L235.71,46.94 L236.94,47.04 L238.18,47.14 L239.41,47.25 L240.65,47.35 L241.88,47.45 L243.12,47.56 L244.35,47.66 L245.59,47.77 L246.82,47.87 L248.06,47.98 L249.29,48.08 L250.53,48.19 L251.76,48.29 L253.00,48.40 L254.23,48.50 L255.47,48.61 L256.70,48.72 L257.94,48.82 L259.17,48.93 L260.41,49.04 L261.64,49.14 L262.88,49.25 L264.11,49.36 L265.34,49.47 L266.58,49.57 L267.81,49.68 L269.05,49.79 L270.28,49.90 L271.52,50.01 L272.75,50.12 L273.99,50.22 L275.22,50.33 L276.46,50.44 L277.69,50.55 L278.93,50.66 L280.16,50.77 L281.40,50.88 L282.63,50.99 L283.87,51.11 L285.10,51.22 L286.34,51.33 L287.57,51.44 L288.81,51.55 L290.04,51.66 L291.27,51.78 L292.51,51.89 L293.74,52.00 L294.98,52.12 L296.21,52.23 L297.45,52.34 L298.68,52.46 L299.92,52.57 L301.15,52.69 L302.38,52.80 L303.62,52.92 L304.85,53.03 L306.09,53.15 L307.32,53.26 L308.56,53.38 L309.79,53.50 L311.02,53.62 L312.26,53.73 L313.49,53.85 L314.73,53.97 L315.96,54.09 L317.19,54.21 L318.43,54.32 L319.66,54.44 L320.90,54.56 L322.13,54.68 L323.36,54.80 L324.60,54.92 L325.83,55.05 L327.07,55.17 L328.30,55.29 L329.53,55.41 L330.77,55.53 L332.00,55.66 L333.23,55.78 L334.47,55.90 L335.70,56.03 L336.93,56.15 L338.17,56.28 L339.40,56.40 L340.63,56.53 L341.87,56.65 L343.10,56.78 L344.33,56.90 L345.57,57.03 L346.80,57.16 L348.03,57.29 L349.26,57.41 L350.50,57.54 L351.73,57.67 L352.96,57.80 L354.20,57.93 L355.43,58.06 L356.66,58.19 L357.89,58.32 L359.13,58.45 L360.36,58.58 L361.59,58.72 L362.82,58.85 L364.05,58.98 L365.29,59.11 L366.52,59.25 L367.75,59.38 L368.98,59.52 L370.21,59.65 L371.45,59.79 L372.68,59.92 L373.91,60.06 L375.14,60.20 L376.37,60.33 L377.60,60.47 L378.84,60.61 L380.07,60.75 L381.30,60.89 L382.53,61.03 L383.76,61.17 L384.99,61.31 L386.22,61.45 L387.45,61.59 L388.68,61.73 L389.92,61.87 L391.15,62.02 L392.38,62.16 L393.61,62.30 L394.84,62.45 L396.07,62.59 L397.30,62.74 L398.53,62.88 L399.76,63.03 L400.99,63.18 L402.22,63.33 L403.45,63.47 L404.68,63.62 L405.91,63.77 L407.14,63.92 L408.37,64.07 L409.60,64.22 L410.83,64.37 L412.05,64.52 L413.28,64.67 L414.51,64.83 L415.74,64.98 L416.97,65.13 L418.20,65.29 L419.43,65.44 L420.66,65.60 L421.89,65.75 L423.11,65.91 L424.34,66.07 L425.57,66.22 L426.80,66.38 L428.03,66.54 L429.26,66.70 L430.48,66.86 L431.71,67.02 L432.94,67.18 L434.17,67.34 L435.39,67.51 L436.62,67.67 L437.85,67.83 L439.08,67.99 L440.30,68.16 L441.53,68.32 L442.76,68.49 L443.98,68.66 L445.21,68.82 L446.44,68.99 L447.66,69.16 L448.89,69.33 L450.12,69.50 L451.34,69.67 L452.57,69.84 L453.79,70.01 L455.02,70.18 L456.25,70.35 L457.47,70.52 L458.70,70.70 L459.92,70.87 L461.15,71.05 L462.37,71.22 L463.60,71.40 L464.82,71.58 L466.05,71.75 L467.27,71.93 L468.50,72.11 L469.72,72.29 L470.95,72.47 L472.17,72.65 L473.39,72.83 L474.62,73.01 L475.84,73.20 L477.06,73.38 L478.29,73.56 L479.51,73.75 L480.74,73.93 L481.96,74.12 L483.18,74.31 L484.40,74.49 L485.63,74.68 L486.85,74.87 L488.07,75.06 L489.29,75.25 L490.52,75.44 L491.74,75.63 L492.96,75.83 L494.18,76.02 L495.41,76.21 L496.63,76.41 L497.85,76.60 L499.07,76.80 L500.29,77.00 L501.51,77.19 L502.73,77.39 L503.95,77.59 L505.17,77.79 L506.39,77.99 L507.62,78.19 L508.84,78.39 L510.06,78.60 L511.28,78.80 L512.50,79.00 L513.72,79.21 L514.93,79.41 L516.15,79.62 L517.37,79.83 L518.59,80.03 L519.81,80.24 L521.03,80.45 L522.25,80.66 L523.47,80.87 L524.69,81.08 L525.90,81.30 L527.12,81.51 L528.34,81.72 L529.56,81.94 L530.78,82.15 L531.99,82.37 L533.21,82.59 L534.43,82.81 L535.64,83.03 L536.86,83.24 L538.08,83.47 L539.29,83.69 L540.51,83.91 L541.73,84.13 L542.94,84.36 L544.16,84.58 L545.37,84.80 L546.59,85.03 L547.81,85.26 L549.02,85.49 L550.24,85.71 L551.45,85.94 L552.67,86.17 L553.88,86.41 L555.09,86.64 L556.31,86.87 L557.52,87.10 L558.74,87.34 L559.95,87.57 L561.16,87.81 L562.38,88.05 L563.59,88.29 L564.80,88.52 L566.02,88.76 L567.23,89.00 L568.44,89.25 L569.65,89.49 L570.87,89.73 L572.08,89.98 L573.29,90.22 L574.50,90.47 L575.71,90.71 L576.92,90.96 L578.14,91.21 L579.35,91.46 L580.56,91.71 L581.77,91.96 L582.98,92.21 L584.19,92.47 L585.40,92.72 L586.61,92.97 L587.82,93.23 L589.03,93.49 L590.24,93.75 L591.44,94.01 L592.65,94.27 L593.86,94.53 L595.07,94.79 L596.28,95.06 L597.49,95.32 L598.69,95.59 L599.90,95.86 L601.11,96.13 L602.31,96.40 L603.52,96.67 L604.72,96.95 L605.93,97.22 L607.14,97.50 L608.34,97.78 L609.54,98.06 L610.75,98.34 L611.95,98.62 L613.16,98.91 L614.36,99.19 L615.56,99.48 L616.76,99.77 L617.97,100.06 L619.17,100.36 L620.37,100.65 L621.57,100.95 L622.77,101.25 L623.97,101.55 L625.17,101.85 L626.37,102.16 L627.57,102.46 L628.77,102.77 L629.96,103.08 L631.16,103.40 L632.36,103.71 L633.55,104.03 L634.75,104.35 L635.95,104.67 L637.14,104.99 L638.34,105.32 L639.53,105.65 L640.72,105.98 L641.92,106.31 L643.11,106.65 L644.30,106.98 L645.49,107.32 L646.68,107.67 L647.87,108.01 L649.06,108.36 L650.25,108.71 L651.44,109.06 L652.63,109.41 L653.82,109.77 L655.00,110.13 L656.19,110.49 L657.38,110.86 L658.56,111.23 L659.75,111.60 L660.93,111.97 L662.11,112.35 L663.30,112.73 L664.48,113.11 L665.66,113.49 L666.84,113.88 L668.02,114.27 L669.20,114.67 L670.38,115.06 L671.56,115.46 L672.73,115.87 L673.91,116.27 L675.09,116.68 L676.26,117.09 L677.44,117.51 L678.61,117.93 L679.78,118.35 L680.96,118.77 L682.13,119.20 L683.30,119.63 L684.47,120.07 L685.64,120.50 L686.81,120.95 L687.98,121.39 L689.14,121.84 L690.31,122.29 L691.47,122.75 L692.64,123.20 L693.80,123.67 L694.97,124.13 L696.13,124.60 L697.29,125.08 L698.45,125.55 L699.61,126.03 L700.76,126.52 L701.92,127.01 L703.07,127.50 L704.22,128.00 L705.37,128.50 L706.52,129.00 L707.66,129.51 L708.81,130.03 L709.95,130.55 L711.09,131.07 L712.23,131.59 L713.36,132.13 L714.49,132.66 L715.62,133.20 L716.75,133.75 L717.87,134.30 L719.00,134.85 L720.11,135.41 L721.23,135.98 L722.34,136.54 L723.45,137.12 L724.56,137.70 L725.66,138.28 L726.76,138.87 L727.86,139.46 L728.95,140.06 L730.04,140.67 L731.12,141.28 L732.21,141.89 L733.28,142.51 L734.36,143.14 L735.43,143.77 L736.49,144.41 L737.56,145.05 L738.61,145.70 L739.67,146.36 L740.71,147.02 L741.76,147.68 L742.80,148.35 L743.83,149.03 L744.86,149.71 L745.89,150.40 L746.91,151.10 L747.92,151.80 L748.93,152.51 L749.94,153.22 L750.93,153.94 L751.93,154.67 L752.92,155.40 L753.90,156.14 L754.88,156.89 L755.85,157.64 L756.82,158.40 L757.78,159.17 L758.73,159.94 L759.68,160.72 L760.62,161.51 L761.56,162.30 L762.49,163.10 L763.41,163.91 L764.33,164.72 L765.24,165.54 L766.14,166.37 L767.04,167.20 L767.93,168.05 L768.81,168.89 L769.69,169.75 L770.56,170.61 L771.42,171.48 L772.28,172.36 L773.13,173.24 L773.97,174.13 L774.81,175.02 L775.63,175.93 L776.46,176.83 L777.27,177.75 L778.08,178.67 L778.88,179.60 L779.67,180.53 L780.46,181.47 L781.23,182.42 L782.00,183.37 L782.77,184.33 L783.52,185.29 L784.27,186.26 L785.01,187.24 L785.74,188.22 L786.47,189.21 L787.19,190.20 L787.89,191.20 L788.60,192.20 L789.29,193.21 L789.98,194.23 L790.65,195.25 L791.32,196.28 L791.99,197.31 L792.64,198.35 L793.28,199.39 L793.92,200.44 L794.55,201.49 L795.17,202.55 L795.78,203.62 L796.39,204.68 L796.98,205.76 L797.57,206.84 L798.15,207.92 L798.72,209.01 L799.28,210.11 L799.83,211.20 L800.38,212.31 L800.92,213.42 L801.44,214.53 L801.96,215.65 L802.47,216.77 L802.98,217.89 L803.47,219.02 L803.96,220.16 L804.44,221.29 L804.91,222.44 L805.37,223.58 L805.82,224.73 L806.27,225.89 L806.71,227.04 L807.14,228.20 L807.56,229.37 L807.98,230.53 L808.38,231.71 L808.78,232.88 L809.18,234.06 L809.56,235.24 L809.94,236.42 L810.31,237.61 L810.67,238.80 L811.03,239.99 L811.38,241.18 L811.72,242.38 L812.05,243.58 L812.38,244.78 L812.70,245.98 L813.01,247.19 L813.32,248.40 L813.62,249.61 L813.91,250.82 L814.20,252.04 L814.48,253.26 L814.76,254.47 L815.02,255.69 L815.29,256.92 L815.54,258.14 L815.79,259.37 L816.04,260.59 L816.28,261.82 L816.51,263.05 L816.74,264.29 L816.97,265.52 L817.18,266.75 L817.40,267.99 L817.61,269.22 L817.81,270.46 L818.01,271.70 L818.20,272.94 L818.39,274.18 L818.58,275.42 L818.76,276.66 L818.94,277.90 L819.11,279.15 L819.28,280.39 L819.44,281.63 L819.60,282.88 L819.76,284.12 L819.91,285.36 L820.06,286.61 L820.21,287.85 L820.35,289.10 L820.49,290.34 L820.63,291.59 L820.76,292.83 L820.89,294.07 L821.02,295.32 L821.15,296.56 L821.27,297.80 L821.39,299.04 L821.51,300.29 L821.63,301.53 L821.74,302.77 L821.85,304.01 L821.96,305.24 L822.07,306.48 L822.17,307.72 L822.28,308.95 L822.38,310.19 L822.48,311.42 L822.58,312.65 L822.68,313.88 L822.78,315.11 L822.88,316.34 L822.97,317.57 L823.07,318.79 L823.16,320.01 L823.25,321.23 L823.35,322.45 L823.44,323.67 L823.53,324.88 L823.62,326.10 L823.72,327.31 L823.81,328.52 L823.90,329.72 L823.99,330.93 L824.09,332.13 L824.18,333.33 L824.27,334.53 L824.37,335.72 L824.46,336.91 L824.56,338.10 L824.65,339.29 L824.75,340.47 L824.85,341.65" fill="none" stroke="#83ba70" stroke-width="3.8" stroke-linejoin="round"/>
<path d="M111.19,37.94 L112.41,38.04 L113.64,38.15 L114.87,38.26 L116.09,38.36 L117.32,38.47 L118.55,38.57 L119.78,38.68 L121.00,38.78 L122.23,38.89 L123.46,38.99 L124.69,39.10 L125.92,39.20 L127.15,39.31 L128.37,39.41 L129.60,39.52 L130.83,39.62 L132.06,39.73 L133.29,39.83 L134.52,39.93 L135.75,40.04 L136.98,40.14 L138.20,40.24 L139.43,40.35 L140.66,40.45 L141.89,40.55 L143.12,40.66 L144.35,40.76 L145.58,40.86 L146.81,40.96 L148.04,41.07 L149.27,41.17 L150.50,41.27 L151.73,41.37 L152.96,41.48 L154.19,41.58 L155.42,41.68 L156.65,41.78 L157.88,41.88 L159.12,41.99 L160.35,42.09 L161.58,42.19 L162.81,42.29 L164.04,42.39 L165.27,42.49 L166.50,42.60 L167.73,42.70 L168.96,42.80 L170.20,42.90 L171.43,43.00 L172.66,43.10 L173.89,43.20 L175.12,43.30 L176.35,43.41 L177.59,43.51 L178.82,43.61 L180.05,43.71 L181.28,43.81 L182.51,43.91 L183.75,44.01 L184.98,44.11 L186.21,44.21 L187.44,44.31 L188.68,44.42 L189.91,44.52 L191.14,44.62 L192.37,44.72 L193.61,44.82 L194.84,44.92 L196.07,45.02 L197.31,45.12 L198.54,45.22 L199.77,45.33 L201.00,45.43 L202.24,45.53 L203.47,45.63 L204.70,45.73 L205.94,45.83 L207.17,45.93 L208.40,46.03 L209.64,46.14 L210.87,46.24 L212.10,46.34 L213.34,46.44 L214.57,46.54 L215.81,46.64 L217.04,46.75 L218.27,46.85 L219.51,46.95 L220.74,47.05 L221.97,47.15 L223.21,47.26 L224.44,47.36 L225.68,47.46 L226.91,47.56 L228.14,47.67 L229.38,47.77 L230.61,47.87 L231.85,47.98 L233.08,48.08 L234.32,48.18 L235.55,48.29 L236.78,48.39 L238.02,48.49 L239.25,48.60 L240.49,48.70 L241.72,48.80 L242.96,48.91 L244.19,49.01 L245.42,49.12 L246.66,49.22 L247.89,49.32 L249.13,49.43 L250.36,49.53 L251.60,49.64 L252.83,49.74 L254.07,49.85 L255.30,49.95 L256.54,50.06 L257.77,50.17 L259.00,50.27 L260.24,50.38 L261.47,50.48 L262.71,50.59 L263.94,50.70 L265.18,50.80 L266.41,50.91 L267.65,51.02 L268.88,51.13 L270.12,51.23 L271.35,51.34 L272.59,51.45 L273.82,51.56 L275.06,51.67 L276.29,51.77 L277.52,51.88 L278.76,51.99 L279.99,52.10 L281.23,52.21 L282.46,52.32 L283.70,52.43 L284.93,52.54 L286.17,52.65 L287.40,52.76 L288.64,52.87 L289.87,52.98 L291.11,53.10 L292.34,53.21 L293.58,53.32 L294.81,53.43 L296.05,53.54 L297.28,53.66 L298.51,53.77 L299.75,53.88 L300.98,54.00 L302.22,54.11 L303.45,54.22 L304.69,54.34 L305.92,54.45 L307.16,54.57 L308.39,54.68 L309.62,54.80 L310.86,54.91 L312.09,55.03 L313.33,55.14 L314.56,55.26 L315.80,55.38 L317.03,55.50 L318.26,55.61 L319.50,55.73 L320.73,55.85 L321.97,55.97 L323.20,56.09 L324.44,56.20 L325.67,56.32 L326.90,56.44 L328.14,56.56 L329.37,56.68 L330.61,56.80 L331.84,56.93 L333.07,57.05 L334.31,57.17 L335.54,57.29 L336.77,57.41 L338.01,57.54 L339.24,57.66 L340.47,57.78 L341.71,57.91 L342.94,58.03 L344.18,58.16 L345.41,58.28 L346.64,58.41 L347.88,58.53 L349.11,58.66 L350.34,58.78 L351.57,58.91 L352.81,59.04 L354.04,59.17 L355.27,59.29 L356.51,59.42 L357.74,59.55 L358.97,59.68 L360.20,59.81 L361.44,59.94 L362.67,60.07 L363.90,60.20 L365.13,60.33 L366.37,60.47 L367.60,60.60 L368.83,60.73 L370.06,60.86 L371.30,61.00 L372.53,61.13 L373.76,61.27 L374.99,61.40 L376.22,61.54 L377.46,61.67 L378.69,61.81 L379.92,61.94 L381.15,62.08 L382.38,62.22 L383.61,62.36 L384.84,62.49 L386.08,62.63 L387.31,62.77 L388.54,62.91 L389.77,63.05 L391.00,63.19 L392.23,63.34 L393.46,63.48 L394.69,63.62 L395.92,63.76 L397.15,63.91 L398.38,64.05 L399.61,64.19 L400.84,64.34 L402.07,64.48 L403.30,64.63 L404.53,64.78 L405.76,64.92 L406.99,65.07 L408.22,65.22 L409.45,65.37 L410.68,65.52 L411.91,65.67 L413.14,65.82 L414.37,65.97 L415.60,66.12 L416.83,66.27 L418.06,66.42 L419.29,66.57 L420.52,66.73 L421.74,66.88 L422.97,67.04 L424.20,67.19 L425.43,67.35 L426.66,67.50 L427.89,67.66 L429.11,67.82 L430.34,67.97 L431.57,68.13 L432.80,68.29 L434.02,68.45 L435.25,68.61 L436.48,68.77 L437.71,68.93 L438.93,69.09 L440.16,69.26 L441.39,69.42 L442.61,69.58 L443.84,69.75 L445.07,69.91 L446.29,70.08 L447.52,70.24 L448.75,70.41 L449.97,70.58 L451.20,70.75 L452.42,70.92 L453.65,71.08 L454.88,71.25 L456.10,71.42 L457.33,71.60 L458.55,71.77 L459.78,71.94 L461.00,72.11 L462.23,72.29 L463.45,72.46 L464.67,72.64 L465.90,72.81 L467.12,72.99 L468.35,73.17 L469.57,73.34 L470.79,73.52 L472.02,73.70 L473.24,73.88 L474.47,74.06 L475.69,74.24 L476.91,74.42 L478.13,74.61 L479.36,74.79 L480.58,74.97 L481.80,75.16 L483.02,75.34 L484.25,75.53 L485.47,75.72 L486.69,75.90 L487.91,76.09 L489.13,76.28 L490.36,76.47 L491.58,76.66 L492.80,76.85 L494.02,77.04 L495.24,77.24 L496.46,77.43 L497.68,77.62 L498.90,77.82 L500.12,78.01 L501.34,78.21 L502.56,78.41 L503.78,78.60 L505.00,78.80 L506.22,79.00 L507.44,79.20 L508.66,79.40 L509.88,79.60 L511.10,79.81 L512.31,80.01 L513.53,80.21 L514.75,80.42 L515.97,80.62 L517.19,80.83 L518.40,81.04 L519.62,81.24 L520.84,81.45 L522.06,81.66 L523.27,81.87 L524.49,82.08 L525.71,82.29 L526.92,82.51 L528.14,82.72 L529.36,82.93 L530.57,83.15 L531.79,83.36 L533.00,83.58 L534.22,83.80 L535.43,84.02 L536.65,84.23 L537.86,84.45 L539.08,84.68 L540.29,84.90 L541.51,85.12 L542.72,85.34 L543.93,85.57 L545.15,85.79 L546.36,86.02 L547.58,86.24 L548.79,86.47 L550.00,86.70 L551.21,86.93 L552.43,87.16 L553.64,87.39 L554.85,87.62 L556.06,87.85 L557.27,88.09 L558.49,88.32 L559.70,88.56 L560.91,88.79 L562.12,89.03 L563.33,89.27 L564.54,89.51 L565.75,89.75 L566.96,89.99 L568.17,90.23 L569.38,90.47 L570.59,90.72 L571.80,90.96 L573.01,91.21 L574.22,91.45 L575.43,91.70 L576.63,91.95 L577.84,92.20 L579.05,92.45 L580.26,92.70 L581.46,92.95 L582.67,93.20 L583.88,93.45 L585.09,93.71 L586.29,93.96 L587.50,94.22 L588.71,94.48 L589.91,94.74 L591.12,95.00 L592.32,95.26 L593.53,95.52 L594.73,95.79 L595.94,96.05 L597.14,96.32 L598.35,96.59 L599.55,96.85 L600.75,97.12 L601.96,97.40 L603.16,97.67 L604.36,97.94 L605.56,98.22 L606.77,98.50 L607.97,98.78 L609.17,99.06 L610.37,99.34 L611.57,99.62 L612.77,99.91 L613.97,100.19 L615.17,100.48 L616.37,100.77 L617.57,101.06 L618.77,101.35 L619.97,101.65 L621.17,101.95 L622.37,102.24 L623.56,102.54 L624.76,102.85 L625.96,103.15 L627.15,103.46 L628.35,103.76 L629.55,104.07 L630.74,104.38 L631.94,104.70 L633.13,105.01 L634.33,105.33 L635.52,105.65 L636.72,105.97 L637.91,106.29 L639.10,106.62 L640.29,106.95 L641.49,107.28 L642.68,107.61 L643.87,107.94 L645.06,108.28 L646.25,108.62 L647.44,108.96 L648.63,109.30 L649.82,109.65 L651.01,110.00 L652.20,110.35 L653.39,110.70 L654.58,111.06 L655.76,111.41 L656.95,111.77 L658.14,112.14 L659.32,112.50 L660.51,112.87 L661.69,113.24 L662.88,113.61 L664.06,113.99 L665.25,114.37 L666.43,114.75 L667.61,115.13 L668.79,115.52 L669.98,115.91 L671.16,116.30 L672.34,116.69 L673.52,117.09 L674.70,117.49 L675.88,117.89 L677.06,118.30 L678.24,118.71 L679.42,119.12 L680.59,119.54 L681.77,119.95 L682.95,120.37 L684.12,120.80 L685.30,121.22 L686.47,121.65 L687.65,122.09 L688.82,122.52 L690.00,122.96 L691.17,123.41 L692.34,123.85 L693.51,124.30 L694.68,124.75 L695.85,125.21 L697.02,125.67 L698.19,126.13 L699.36,126.60 L700.52,127.07 L701.69,127.54 L702.85,128.02 L704.01,128.50 L705.17,128.99 L706.33,129.48 L707.48,129.97 L708.63,130.47 L709.79,130.97 L710.93,131.48 L712.08,131.99 L713.23,132.51 L714.37,133.03 L715.51,133.55 L716.64,134.08 L717.78,134.61 L718.91,135.15 L720.04,135.70 L721.16,136.24 L722.29,136.80 L723.41,137.36 L724.52,137.92 L725.63,138.49 L726.74,139.06 L727.85,139.64 L728.95,140.23 L730.05,140.82 L731.14,141.41 L732.23,142.01 L733.31,142.62 L734.40,143.23 L735.47,143.85 L736.55,144.48 L737.61,145.11 L738.68,145.74 L739.74,146.39 L740.79,147.03 L741.84,147.69 L742.88,148.35 L743.92,149.02 L744.96,149.69 L745.99,150.37 L747.01,151.06 L748.03,151.75 L749.04,152.45 L750.05,153.15 L751.05,153.87 L752.04,154.59 L753.03,155.31 L754.02,156.05 L754.99,156.79 L755.96,157.54 L756.93,158.29 L757.89,159.05 L758.84,159.82 L759.78,160.60 L760.72,161.38 L761.65,162.18 L762.58,162.98 L763.50,163.78 L764.41,164.60 L765.31,165.42 L766.21,166.25 L767.09,167.09 L767.98,167.93 L768.85,168.79 L769.72,169.65 L770.58,170.51 L771.43,171.39 L772.28,172.27 L773.11,173.16 L773.95,174.06 L774.77,174.96 L775.59,175.87 L776.40,176.79 L777.20,177.71 L777.99,178.64 L778.78,179.58 L779.56,180.52 L780.33,181.47 L781.10,182.42 L781.85,183.39 L782.60,184.36 L783.35,185.33 L784.08,186.31 L784.81,187.30 L785.53,188.29 L786.25,189.29 L786.95,190.29 L787.65,191.30 L788.34,192.32 L789.02,193.34 L789.70,194.37 L790.37,195.40 L791.03,196.44 L791.68,197.48 L792.33,198.53 L792.97,199.58 L793.60,200.64 L794.22,201.70 L794.84,202.77 L795.45,203.84 L796.05,204.92 L796.64,206.00 L797.23,207.09 L797.80,208.18 L798.38,209.27 L798.94,210.37 L799.49,211.48 L800.04,212.58 L800.58,213.70 L801.11,214.81 L801.64,215.93 L802.15,217.06 L802.66,218.19 L803.17,219.32 L803.66,220.46 L804.15,221.60 L804.62,222.74 L805.09,223.89 L805.56,225.04 L806.01,226.19 L806.46,227.35 L806.90,228.51 L807.33,229.67 L807.76,230.83 L808.17,232.00 L808.58,233.18 L808.98,234.35 L809.37,235.53 L809.76,236.71 L810.14,237.89 L810.51,239.08 L810.87,240.26 L811.22,241.45 L811.57,242.65 L811.90,243.84 L812.23,245.04 L812.56,246.24 L812.87,247.44 L813.18,248.64 L813.48,249.85 L813.78,251.05 L814.06,252.26 L814.34,253.47 L814.62,254.69 L814.88,255.90 L815.14,257.12 L815.40,258.33 L815.65,259.55 L815.89,260.77 L816.12,261.99 L816.35,263.22 L816.58,264.44 L816.80,265.67 L817.01,266.89 L817.22,268.12 L817.42,269.35 L817.62,270.58 L817.81,271.81 L818.00,273.05 L818.18,274.28 L818.36,275.51 L818.54,276.75 L818.71,277.98 L818.87,279.22 L819.03,280.46 L819.19,281.69 L819.35,282.93 L819.50,284.17 L819.64,285.41 L819.79,286.65 L819.93,287.89 L820.06,289.13 L820.20,290.36 L820.33,291.60 L820.46,292.84 L820.58,294.08 L820.70,295.32 L820.82,296.56 L820.94,297.80 L821.06,299.04 L821.17,300.28 L821.28,301.52 L821.39,302.76 L821.50,303.99 L821.61,305.23 L821.71,306.47 L821.81,307.70 L821.92,308.94 L822.02,310.17 L822.12,311.41 L822.22,312.64 L822.32,313.87 L822.42,315.11 L822.51,316.34 L822.61,317.56 L822.71,318.79 L822.80,320.02 L822.90,321.25 L823.00,322.47 L823.10,323.69 L823.19,324.92 L823.29,326.14 L823.39,327.35 L823.49,328.57 L823.59,329.79 L823.69,331.00 L823.80,332.21 L823.90,333.42 L824.00,334.63 L824.11,335.84 L824.22,337.05 L824.33,338.25 L824.44,339.45 L824.56,340.65 L824.67,341.85" fill="none" stroke="#519ab3" stroke-width="3.8" stroke-linejoin="round"/>
<path d="M111.21,43.53 L112.43,43.64 L113.66,43.75 L114.88,43.86 L116.10,43.96 L117.33,44.07 L118.55,44.18 L119.77,44.29 L121.00,44.39 L122.22,44.50 L123.44,44.61 L124.67,44.71 L125.89,44.82 L127.12,44.92 L128.34,45.03 L129.56,45.14 L130.79,45.24 L132.01,45.35 L133.24,45.45 L134.46,45.56 L135.69,45.66 L136.91,45.77 L138.14,45.87 L139.36,45.98 L140.59,46.08 L141.81,46.19 L143.04,46.29 L144.27,46.40 L145.49,46.50 L146.72,46.61 L147.94,46.71 L149.17,46.81 L150.40,46.92 L151.62,47.02 L152.85,47.12 L154.07,47.23 L155.30,47.33 L156.53,47.44 L157.75,47.54 L158.98,47.64 L160.21,47.75 L161.44,47.85 L162.66,47.95 L163.89,48.05 L165.12,48.16 L166.34,48.26 L167.57,48.36 L168.80,48.47 L170.03,48.57 L171.26,48.67 L172.48,48.77 L173.71,48.88 L174.94,48.98 L176.17,49.08 L177.40,49.18 L178.62,49.29 L179.85,49.39 L181.08,49.49 L182.31,49.59 L183.54,49.70 L184.77,49.80 L186.00,49.90 L187.22,50.00 L188.45,50.11 L189.68,50.21 L190.91,50.31 L192.14,50.41 L193.37,50.51 L194.60,50.62 L195.83,50.72 L197.06,50.82 L198.29,50.92 L199.52,51.03 L200.75,51.13 L201.98,51.23 L203.20,51.33 L204.43,51.44 L205.66,51.54 L206.89,51.64 L208.12,51.74 L209.35,51.85 L210.58,51.95 L211.81,52.05 L213.04,52.16 L214.27,52.26 L215.51,52.36 L216.74,52.46 L217.97,52.57 L219.20,52.67 L220.43,52.77 L221.66,52.88 L222.89,52.98 L224.12,53.08 L225.35,53.19 L226.58,53.29 L227.81,53.39 L229.04,53.50 L230.27,53.60 L231.50,53.71 L232.73,53.81 L233.96,53.91 L235.20,54.02 L236.43,54.12 L237.66,54.23 L238.89,54.33 L240.12,54.44 L241.35,54.54 L242.58,54.65 L243.81,54.75 L245.04,54.86 L246.28,54.96 L247.51,55.07 L248.74,55.17 L249.97,55.28 L251.20,55.38 L252.43,55.49 L253.66,55.60 L254.89,55.70 L256.13,55.81 L257.36,55.92 L258.59,56.02 L259.82,56.13 L261.05,56.24 L262.28,56.34 L263.52,56.45 L264.75,56.56 L265.98,56.67 L267.21,56.78 L268.44,56.88 L269.67,56.99 L270.90,57.10 L272.14,57.21 L273.37,57.32 L274.60,57.43 L275.83,57.54 L277.06,57.65 L278.29,57.76 L279.53,57.87 L280.76,57.98 L281.99,58.09 L283.22,58.20 L284.45,58.31 L285.68,58.42 L286.92,58.53 L288.15,58.64 L289.38,58.75 L290.61,58.87 L291.84,58.98 L293.07,59.09 L294.31,59.20 L295.54,59.32 L296.77,59.43 L298.00,59.54 L299.23,59.66 L300.46,59.77 L301.70,59.88 L302.93,60.00 L304.16,60.11 L305.39,60.23 L306.62,60.34 L307.85,60.46 L309.08,60.58 L310.32,60.69 L311.55,60.81 L312.78,60.92 L314.01,61.04 L315.24,61.16 L316.47,61.28 L317.70,61.39 L318.94,61.51 L320.17,61.63 L321.40,61.75 L322.63,61.87 L323.86,61.99 L325.09,62.11 L326.32,62.23 L327.55,62.35 L328.79,62.47 L330.02,62.59 L331.25,62.71 L332.48,62.83 L333.71,62.96 L334.94,63.08 L336.17,63.20 L337.40,63.32 L338.63,63.45 L339.86,63.57 L341.09,63.70 L342.32,63.82 L343.55,63.94 L344.78,64.07 L346.02,64.20 L347.25,64.32 L348.48,64.45 L349.71,64.57 L350.94,64.70 L352.17,64.83 L353.40,64.96 L354.63,65.08 L355.86,65.21 L357.09,65.34 L358.32,65.47 L359.55,65.60 L360.78,65.73 L362.01,65.86 L363.24,65.99 L364.47,66.12 L365.70,66.26 L366.93,66.39 L368.15,66.52 L369.38,66.65 L370.61,66.79 L371.84,66.92 L373.07,67.06 L374.30,67.19 L375.53,67.33 L376.76,67.46 L377.99,67.60 L379.22,67.73 L380.45,67.87 L381.67,68.01 L382.90,68.15 L384.13,68.29 L385.36,68.42 L386.59,68.56 L387.82,68.70 L389.04,68.84 L390.27,68.98 L391.50,69.13 L392.73,69.27 L393.96,69.41 L395.18,69.55 L396.41,69.69 L397.64,69.84 L398.87,69.98 L400.10,70.13 L401.32,70.27 L402.55,70.42 L403.78,70.56 L405.00,70.71 L406.23,70.86 L407.46,71.00 L408.68,71.15 L409.91,71.30 L411.14,71.45 L412.36,71.60 L413.59,71.75 L414.82,71.90 L416.04,72.05 L417.27,72.20 L418.50,72.36 L419.72,72.51 L420.95,72.66 L422.17,72.82 L423.40,72.97 L424.62,73.13 L425.85,73.28 L427.08,73.44 L428.30,73.59 L429.53,73.75 L430.75,73.91 L431.98,74.07 L433.20,74.23 L434.42,74.39 L435.65,74.55 L436.87,74.71 L438.10,74.87 L439.32,75.03 L440.55,75.19 L441.77,75.36 L442.99,75.52 L444.22,75.68 L445.44,75.85 L446.66,76.01 L447.89,76.18 L449.11,76.35 L450.33,76.51 L451.56,76.68 L452.78,76.85 L454.00,77.02 L455.23,77.19 L456.45,77.36 L457.67,77.53 L458.89,77.70 L460.11,77.88 L461.34,78.05 L462.56,78.22 L463.78,78.40 L465.00,78.57 L466.22,78.75 L467.44,78.92 L468.66,79.10 L469.89,79.28 L471.11,79.46 L472.33,79.63 L473.55,79.81 L474.77,79.99 L475.99,80.18 L477.21,80.36 L478.43,80.54 L479.65,80.72 L480.87,80.91 L482.09,81.09 L483.31,81.27 L484.52,81.46 L485.74,81.65 L486.96,81.83 L488.18,82.02 L489.40,82.21 L490.62,82.40 L491.84,82.59 L493.05,82.78 L494.27,82.97 L495.49,83.16 L496.71,83.36 L497.93,83.55 L499.14,83.74 L500.36,83.94 L501.58,84.13 L502.79,84.33 L504.01,84.53 L505.23,84.73 L506.44,84.92 L507.66,85.12 L508.87,85.32 L510.09,85.52 L511.31,85.73 L512.52,85.93 L513.74,86.13 L514.95,86.34 L516.17,86.54 L517.38,86.75 L518.60,86.95 L519.81,87.16 L521.02,87.37 L522.24,87.58 L523.45,87.78 L524.67,88.00 L525.88,88.21 L527.09,88.42 L528.30,88.63 L529.52,88.84 L530.73,89.06 L531.94,89.27 L533.16,89.49 L534.37,89.71 L535.58,89.92 L536.79,90.14 L538.00,90.36 L539.21,90.58 L540.42,90.80 L541.64,91.02 L542.85,91.24 L544.06,91.47 L545.27,91.69 L546.48,91.92 L547.69,92.14 L548.90,92.37 L550.11,92.60 L551.32,92.83 L552.53,93.05 L553.73,93.28 L554.94,93.52 L556.15,93.75 L557.36,93.98 L558.57,94.21 L559.78,94.45 L560.98,94.68 L562.19,94.92 L563.40,95.16 L564.60,95.39 L565.81,95.63 L567.02,95.87 L568.22,96.11 L569.43,96.35 L570.64,96.60 L571.84,96.84 L573.05,97.08 L574.25,97.33 L575.46,97.58 L576.66,97.82 L577.87,98.07 L579.07,98.32 L580.28,98.57 L581.48,98.82 L582.68,99.07 L583.89,99.32 L585.09,99.58 L586.29,99.83 L587.50,100.09 L588.70,100.34 L589.90,100.60 L591.10,100.86 L592.30,101.12 L593.51,101.38 L594.71,101.64 L595.91,101.91 L597.11,102.17 L598.31,102.44 L599.51,102.71 L600.71,102.98 L601.91,103.25 L603.11,103.52 L604.31,103.79 L605.51,104.06 L606.70,104.34 L607.90,104.62 L609.10,104.90 L610.30,105.18 L611.49,105.46 L612.69,105.74 L613.89,106.03 L615.08,106.31 L616.28,106.60 L617.48,106.89 L618.67,107.18 L619.87,107.48 L621.06,107.77 L622.26,108.07 L623.45,108.37 L624.64,108.67 L625.84,108.97 L627.03,109.27 L628.22,109.58 L629.41,109.89 L630.61,110.20 L631.80,110.51 L632.99,110.82 L634.18,111.14 L635.37,111.46 L636.56,111.78 L637.75,112.10 L638.94,112.42 L640.13,112.75 L641.32,113.08 L642.50,113.41 L643.69,113.74 L644.88,114.07 L646.07,114.41 L647.25,114.75 L648.44,115.09 L649.63,115.43 L650.81,115.78 L652.00,116.13 L653.18,116.48 L654.36,116.83 L655.55,117.19 L656.73,117.55 L657.91,117.91 L659.10,118.27 L660.28,118.64 L661.46,119.00 L662.64,119.38 L663.82,119.75 L665.00,120.13 L666.18,120.50 L667.36,120.89 L668.54,121.27 L669.72,121.66 L670.90,122.05 L672.07,122.44 L673.25,122.83 L674.43,123.23 L675.60,123.63 L676.78,124.04 L677.95,124.44 L679.13,124.85 L680.30,125.26 L681.48,125.68 L682.65,126.10 L683.82,126.52 L684.99,126.94 L686.17,127.37 L687.34,127.80 L688.51,128.24 L689.68,128.67 L690.85,129.11 L692.02,129.56 L693.18,130.00 L694.35,130.45 L695.52,130.91 L696.68,131.36 L697.85,131.82 L699.01,132.29 L700.17,132.75 L701.34,133.23 L702.49,133.70 L703.65,134.18 L704.81,134.66 L705.96,135.15 L707.12,135.64 L708.27,136.14 L709.41,136.64 L710.56,137.14 L711.71,137.65 L712.85,138.16 L713.99,138.68 L715.12,139.20 L716.26,139.72 L717.39,140.26 L718.52,140.79 L719.64,141.33 L720.77,141.88 L721.89,142.43 L723.00,142.98 L724.12,143.54 L725.23,144.11 L726.33,144.68 L727.44,145.26 L728.54,145.84 L729.63,146.43 L730.72,147.02 L731.81,147.62 L732.90,148.22 L733.97,148.83 L735.05,149.44 L736.12,150.07 L737.19,150.69 L738.25,151.33 L739.31,151.96 L740.36,152.61 L741.41,153.26 L742.45,153.92 L743.49,154.58 L744.52,155.25 L745.55,155.93 L746.57,156.61 L747.59,157.30 L748.60,158.00 L749.60,158.70 L750.60,159.41 L751.60,160.13 L752.58,160.85 L753.57,161.58 L754.54,162.32 L755.51,163.07 L756.48,163.82 L757.43,164.58 L758.38,165.34 L759.33,166.12 L760.27,166.90 L761.20,167.69 L762.12,168.49 L763.04,169.29 L763.95,170.10 L764.85,170.92 L765.75,171.75 L766.64,172.58 L767.52,173.43 L768.39,174.28 L769.26,175.13 L770.12,176.00 L770.97,176.87 L771.81,177.75 L772.65,178.64 L773.48,179.53 L774.31,180.43 L775.12,181.34 L775.93,182.26 L776.73,183.18 L777.53,184.10 L778.32,185.04 L779.10,185.98 L779.87,186.93 L780.64,187.88 L781.39,188.84 L782.14,189.81 L782.89,190.78 L783.62,191.76 L784.35,192.74 L785.08,193.73 L785.79,194.73 L786.50,195.73 L787.20,196.74 L787.89,197.75 L788.57,198.77 L789.25,199.80 L789.92,200.83 L790.58,201.86 L791.24,202.90 L791.89,203.95 L792.53,205.00 L793.16,206.05 L793.79,207.11 L794.41,208.18 L795.02,209.25 L795.62,210.32 L796.22,211.40 L796.81,212.49 L797.39,213.57 L797.96,214.67 L798.53,215.76 L799.09,216.86 L799.64,217.97 L800.19,219.08 L800.72,220.19 L801.25,221.31 L801.77,222.43 L802.29,223.55 L802.79,224.68 L803.29,225.81 L803.79,226.95 L804.27,228.09 L804.75,229.23 L805.22,230.38 L805.68,231.53 L806.13,232.68 L806.58,233.83 L807.02,234.99 L807.45,236.15 L807.87,237.31 L808.29,238.48 L808.70,239.65 L809.10,240.82 L809.49,242.00 L809.88,243.17 L810.26,244.35 L810.63,245.53 L810.99,246.72 L811.35,247.90 L811.70,249.09 L812.04,250.28 L812.37,251.47 L812.70,252.67 L813.01,253.86 L813.32,255.06 L813.63,256.26 L813.92,257.46 L814.21,258.66 L814.49,259.86 L814.76,261.07 L815.03,262.28 L815.29,263.48 L815.55,264.69 L815.80,265.90 L816.04,267.12 L816.27,268.33 L816.50,269.54 L816.73,270.76 L816.95,271.98 L817.16,273.19 L817.37,274.41 L817.57,275.63 L817.77,276.85 L817.96,278.08 L818.15,279.30 L818.33,280.52 L818.51,281.75 L818.68,282.97 L818.85,284.20 L819.02,285.43 L819.18,286.65 L819.34,287.88 L819.49,289.11 L819.65,290.34 L819.79,291.57 L819.94,292.80 L820.08,294.03 L820.22,295.26 L820.35,296.49 L820.48,297.72 L820.61,298.95 L820.74,300.19 L820.86,301.42 L820.99,302.65 L821.11,303.88 L821.23,305.11 L821.34,306.35 L821.46,307.58 L821.57,308.81 L821.68,310.04 L821.79,311.28 L821.90,312.51 L822.01,313.74 L822.12,314.97 L822.23,316.20 L822.33,317.43 L822.44,318.66 L822.55,319.89 L822.65,321.12 L822.76,322.35 L822.86,323.58 L822.97,324.80 L823.08,326.03 L823.18,327.26 L823.29,328.48 L823.40,329.71 L823.51,330.93 L823.62,332.15 L823.73,333.37 L823.85,334.60 L823.96,335.82 L824.08,337.04 L824.20,338.25 L824.32,339.47 L824.44,340.69 L824.56,341.90 L824.69,343.11 L824.82,344.33 L824.95,345.54" fill="none" stroke="#4252c8" stroke-width="3.8" stroke-linejoin="round"/>
<circle cx="172.8" cy="93.1" r="7.4" fill="#db2122"/>
<circle cx="172.8" cy="74.0" r="7.4" fill="#e38d34"/>
<circle cx="172.8" cy="50.9" r="7.4" fill="#c1b942"/>
<circle cx="172.8" cy="40.7" r="7.4" fill="#83ba70"/>
<circle cx="172.8" cy="41.0" r="7.4" fill="#519ab3"/>
<circle cx="172.9" cy="48.0" r="7.4" fill="#4252c8"/>
<rect x="98.45" y="9.15" width="741.05" height="458.15" fill="none" stroke="#666666" stroke-width="1.25"/>
<path d="M98.45,467.30h9.0 M839.5,467.30h-9.0 M98.45,454.56h5.3 M839.5,454.56h-5.3 M98.45,441.83h5.3 M839.5,441.83h-5.3 M98.45,429.10h5.3 M839.5,429.10h-5.3 M98.45,416.36h5.3 M839.5,416.36h-5.3 M98.45,403.62h9.0 M839.5,403.62h-9.0 M98.45,390.89h5.3 M839.5,390.89h-5.3 M98.45,378.15h5.3 M839.5,378.15h-5.3 M98.45,365.42h5.3 M839.5,365.42h-5.3 M98.45,352.69h5.3 M839.5,352.69h-5.3 M98.45,339.95h9.0 M839.5,339.95h-9.0 M98.45,327.22h5.3 M839.5,327.22h-5.3 M98.45,314.48h5.3 M839.5,314.48h-5.3 M98.45,301.75h5.3 M839.5,301.75h-5.3 M98.45,289.01h5.3 M839.5,289.01h-5.3 M98.45,276.28h9.0 M839.5,276.28h-9.0 M98.45,263.54h5.3 M839.5,263.54h-5.3 M98.45,250.81h5.3 M839.5,250.81h-5.3 M98.45,238.07h5.3 M839.5,238.07h-5.3 M98.45,225.34h5.3 M839.5,225.34h-5.3 M98.45,212.60h9.0 M839.5,212.60h-9.0 M98.45,199.87h5.3 M839.5,199.87h-5.3 M98.45,187.13h5.3 M839.5,187.13h-5.3 M98.45,174.39h5.3 M839.5,174.39h-5.3 M98.45,161.66h5.3 M839.5,161.66h-5.3 M98.45,148.93h9.0 M839.5,148.93h-9.0 M98.45,136.19h5.3 M839.5,136.19h-5.3 M98.45,123.45h5.3 M839.5,123.45h-5.3 M98.45,110.72h5.3 M839.5,110.72h-5.3 M98.45,97.98h5.3 M839.5,97.98h-5.3 M98.45,85.25h9.0 M839.5,85.25h-9.0 M98.45,72.52h5.3 M839.5,72.52h-5.3 M98.45,59.78h5.3 M839.5,59.78h-5.3 M98.45,47.05h5.3 M839.5,47.05h-5.3 M98.45,34.31h5.3 M839.5,34.31h-5.3 M98.45,21.58h9.0 M839.5,21.58h-9.0 M824.50,467.3v-7.4 M824.50,9.15v7.4 M765.22,467.3v-5.3 M765.22,9.15v5.3 M705.94,467.3v-5.3 M705.94,9.15v5.3 M646.66,467.3v-5.3 M646.66,9.15v5.3 M587.38,467.3v-7.4 M587.38,9.15v7.4 M528.10,467.3v-5.3 M528.10,9.15v5.3 M468.82,467.3v-5.3 M468.82,9.15v5.3 M409.54,467.3v-5.3 M409.54,9.15v5.3 M350.26,467.3v-7.4 M350.26,9.15v7.4 M290.98,467.3v-5.3 M290.98,9.15v5.3 M231.70,467.3v-5.3 M231.70,9.15v5.3 M172.42,467.3v-5.3 M172.42,9.15v5.3 M113.14,467.3v-7.4 M113.14,9.15v7.4" fill="none" stroke="#666666" stroke-width="1.25"/>
<g transform="translate(20.2,237.1) skewY(11.9)" fill="none" stroke="#666"><path d="M-7.3,0 C-7.3,-5.35 -4.82,-8.1 0,-8.1 C4.82,-8.1 7.3,-5.35 7.3,0 C7.3,5.35 4.82,8.1 0,8.1 C-4.82,8.1 -7.3,5.35 -7.3,0Z" stroke-width="2.3"/><path d="M-14.1,0H13.6" stroke-width="2.1"/></g>
</svg>
<div id="t" style="position:absolute;left:0;top:0;width:843px;height:562px;will-change:transform">
<div class="yl" style="top:451.90px">0<span class="d">.</span>0</div>
<div class="yl" style="top:388.23px">0<span class="d">.</span>5</div>
<div class="yl" style="top:324.55px">1<span class="d">.</span>0</div>
<div class="yl" style="top:260.88px">1<span class="d">.</span>5</div>
<div class="yl" style="top:197.20px">2<span class="d">.</span>0</div>
<div class="yl" style="top:133.53px">2<span class="d">.</span>5</div>
<div class="yl" style="top:69.85px">3<span class="d">.</span>0</div>
<div class="yl" style="top:6.18px">3<span class="d">.</span>5</div>
<div class="xl" style="left:113.54px">60</div>
<div class="xl" style="left:350.66px">40</div>
<div class="xl" style="left:587.78px">20</div>
<div class="xl" style="left:824.90px">0</div>
<div class="xl" style="left:467.98px;top:524.5px;font-size:32px;transform:translateX(-50%)">ΔN</div>
</div></div></body></html>
